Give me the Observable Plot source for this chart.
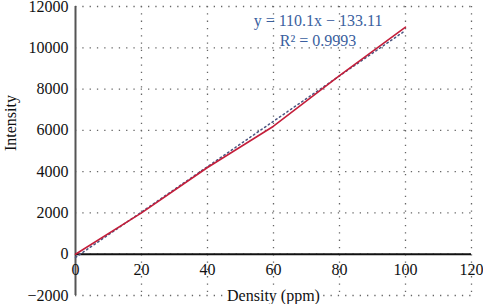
<!DOCTYPE html>
<html>
<head>
<meta charset="utf-8">
<script src="https://cdn.jsdelivr.net/npm/d3@7"></script>
<script src="https://cdn.jsdelivr.net/npm/@observablehq/plot@0.6"></script>
<style>
  html, body { margin: 0; padding: 0; background: #fff; }
  #chart svg { display: block; }
</style>
</head>
<body>
<div id="chart"></div>
<script>
// Data
const density = [0, 20, 40, 60, 80, 100];
const intensity = [0, 2000, 4200, 6200, 8650, 11000];
const xTicks = [0, 20, 40, 60, 80, 100, 120];
const yTicks = [-2000, 0, 2000, 4000, 6000, 8000, 10000, 12000];
const equationLines = ["y = 110.1x \u2212 133.11", "R\u00b2 = 0.9993"];
const xLabel = "Density (ppm)";
const yLabel = "Intensity";

const data = density.map((d, i) => ({x: d, y: intensity[i]}));

const font = "'Liberation Serif', 'Times New Roman', serif";
const gridColor = "#666";

const chart = Plot.plot({
  width: 483,
  height: 304,
  marginTop: 6,
  marginBottom: 9,
  marginLeft: 75,
  marginRight: 12,
  style: {fontFamily: font, fontSize: "16px", color: "#111", background: "#fff"},
  x: {domain: [0, 120], axis: null},
  y: {domain: [-2000, 12000], axis: null},
  marks: [
    // dotted grid
    Plot.ruleY(yTicks, {stroke: gridColor, strokeWidth: 1.3, strokeDasharray: "1.3,6"}),
    Plot.ruleX(xTicks.filter(d => d > 0), {stroke: gridColor, strokeWidth: 1.3, strokeDasharray: "1.3,6"}),
    // axes lines
    Plot.ruleX([0], {stroke: "#555", strokeWidth: 2}),
    Plot.ruleY([0], {stroke: "#111", strokeWidth: 2}),
    // y tick labels
    Plot.text(yTicks, {frameAnchor: "left", y: d => d, dx: -7, textAnchor: "end", text: d => d < 0 ? "\u2212" + Math.abs(d) : String(d), fontSize: 16, fill: "#111"}),
    // x tick labels at y = 0
    Plot.text(xTicks, {x: d => d, y: 0, dy: 16, text: d => String(d), fontSize: 16, fill: "#111"}),
    // trendline (linear regression)
    Plot.linearRegressionY(data, {x: "x", y: "y", ci: 0, stroke: "#4a5580", strokeWidth: 1.5, strokeDasharray: "1.5,3"}),
    // data line
    Plot.line(data, {x: "x", y: "y", stroke: "#c41e3a", strokeWidth: 1.6}),
    // equation text
    Plot.text(equationLines, {x: 73.5, y: (d, i) => i === 0 ? 11300 : 10330, text: d => d, fill: "#3a5fa0", fontSize: 16, textAnchor: "middle"}),
    // axis labels
    Plot.text([xLabel], {frameAnchor: "bottom", text: d => d, fontSize: 16, fill: "#111", stroke: "#fff", strokeWidth: 5, lineAnchor: "middle", dy: 0}),
    Plot.text([yLabel], {frameAnchor: "left", text: d => d, rotate: -90, dx: -65, fontSize: 16, fill: "#111"})
  ]
});
document.getElementById("chart").appendChild(chart);
</script>
</body>
</html>
